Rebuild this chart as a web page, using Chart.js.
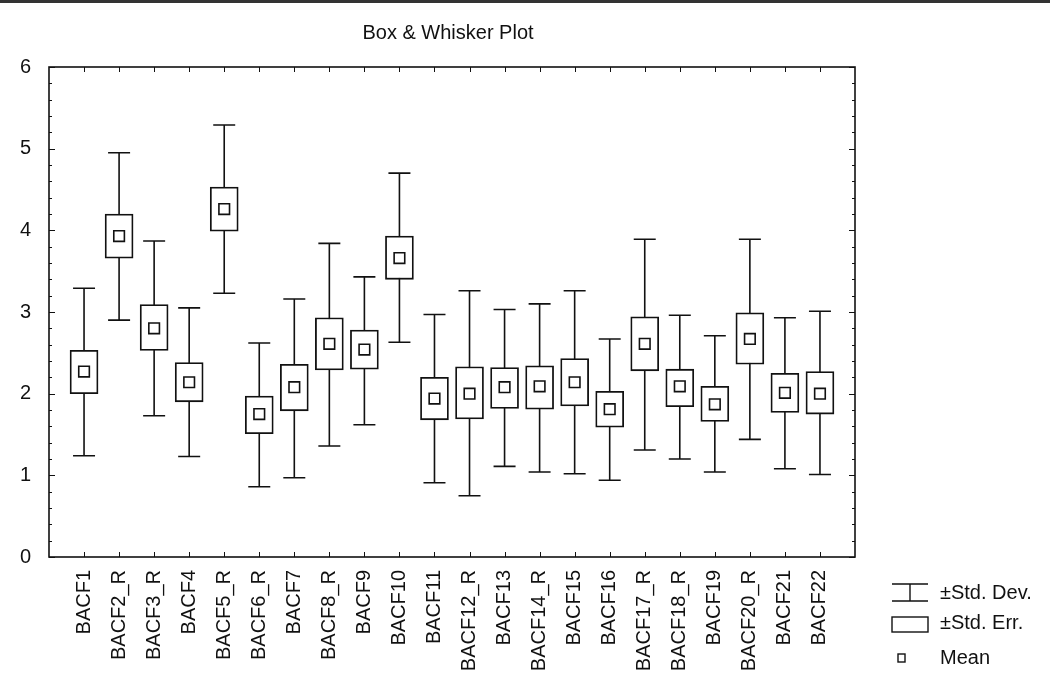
<!DOCTYPE html>
<html>
<head>
<meta charset="utf-8">
<title>Box & Whisker Plot</title>
<script src="https://cdn.jsdelivr.net/npm/chart.js@4/dist/chart.umd.min.js"></script>
<style>
  html, body { margin: 0; padding: 0; background: #fff; }
  #wrap { width: 1050px; height: 693px; position: relative; }
</style>
</head>
<body>
<div id="wrap"><canvas id="c" width="1050" height="693"></canvas></div>
<script>
// Variables on the x axis
const categories = ['BACF1','BACF2_R','BACF3_R','BACF4','BACF5_R','BACF6_R','BACF7','BACF8_R','BACF9','BACF10',
  'BACF11','BACF12_R','BACF13','BACF14_R','BACF15','BACF16','BACF17_R','BACF18_R','BACF19','BACF20_R','BACF21','BACF22'];

// Mean of each variable
const means   = [2.27, 3.93, 2.80, 2.14, 4.26, 1.75, 2.08, 2.61, 2.54, 3.66,
                 1.94, 2.00, 2.08, 2.09, 2.14, 1.81, 2.61, 2.09, 1.87, 2.67, 2.01, 2.00];
// Mean ± standard error (box)
const seLow   = [2.00, 3.66, 2.53, 1.90, 3.99, 1.51, 1.79, 2.29, 2.30, 3.40,
                 1.68, 1.69, 1.82, 1.81, 1.85, 1.59, 2.28, 1.84, 1.66, 2.36, 1.77, 1.75];
const seHigh  = [2.53, 4.20, 3.09, 2.38, 4.53, 1.97, 2.36, 2.93, 2.78, 3.93,
                 2.20, 2.33, 2.32, 2.34, 2.43, 2.03, 2.94, 2.30, 2.09, 2.99, 2.25, 2.27];
// Mean ± standard deviation (whiskers)
const sdLow   = [1.24, 2.90, 1.73, 1.23, 3.23, 0.86, 0.97, 1.36, 1.62, 2.63,
                 0.91, 0.75, 1.11, 1.04, 1.02, 0.94, 1.31, 1.20, 1.04, 1.44, 1.08, 1.01];
const sdHigh  = [3.29, 4.95, 3.87, 3.05, 5.29, 2.62, 3.16, 3.84, 3.43, 4.70,
                 2.97, 3.26, 3.03, 3.10, 3.26, 2.67, 3.89, 2.96, 2.71, 3.89, 2.93, 3.01];

// Y axis range and tick step
const yTicks = [0, 1, 2, 3, 4, 5, 6];
const yMinorStep = 0.2;

// Empty slot on each side so the first and last box sit one step in from the frame
const labels = [''].concat(categories, ['']);
const pad = arr => [null].concat(arr, [null]);

const INK = '#111';
const FONT = '"Liberation Sans", Arial, sans-serif';

// Whiskers with end caps, drawn under the boxes
const whiskerPlugin = {
  id: 'whiskers',
  beforeDatasetsDraw(chart) {
    const { ctx, scales: { x, y } } = chart;
    ctx.save();
    ctx.strokeStyle = INK;
    ctx.lineWidth = 1.6;
    categories.forEach((_, i) => {
      const px = x.getPixelForValue(i + 1);
      const top = y.getPixelForValue(sdHigh[i]);
      const bot = y.getPixelForValue(sdLow[i]);
      ctx.beginPath();
      ctx.moveTo(px, top); ctx.lineTo(px, bot);
      ctx.moveTo(px - 11, top); ctx.lineTo(px + 11, top);
      ctx.moveTo(px - 11, bot); ctx.lineTo(px + 11, bot);
      ctx.stroke();
    });
    ctx.restore();
  }
};

// Frame, inward tick marks, title and legend
const framePlugin = {
  id: 'frame',
  afterDraw(chart) {
    const { ctx, chartArea: a, scales: { x, y } } = chart;
    ctx.save();
    ctx.strokeStyle = INK;
    ctx.lineWidth = 1.6;
    ctx.strokeRect(a.left, a.top, a.right - a.left, a.bottom - a.top);

    ctx.lineWidth = 1;
    ctx.beginPath();
    // y ticks on both sides, pointing inward
    for (let v = 0; v <= 6.0001; v += yMinorStep) {
      const py = Math.round(y.getPixelForValue(v)) + 0.5;
      const major = Math.abs(v - Math.round(v)) < 1e-6;
      const len = major ? 6 : 3;
      ctx.moveTo(a.left, py); ctx.lineTo(a.left + len, py);
      ctx.moveTo(a.right, py); ctx.lineTo(a.right - len, py);
    }
    // x ticks at each variable, top and bottom
    categories.forEach((_, i) => {
      const px = Math.round(x.getPixelForValue(i + 1)) + 0.5;
      ctx.moveTo(px, a.bottom); ctx.lineTo(px, a.bottom - 5);
      ctx.moveTo(px, a.top); ctx.lineTo(px, a.top + 5);
    });
    ctx.stroke();

    // Title
    ctx.fillStyle = INK;
    ctx.font = '20px ' + FONT;
    ctx.textAlign = 'center';
    ctx.textBaseline = 'middle';
    ctx.fillText('Box & Whisker Plot', 448, 33);

    // Legend
    const lx = 892, lw = 36;
    ctx.lineWidth = 1.4;
    ctx.beginPath();
    ctx.moveTo(lx, 584); ctx.lineTo(lx + lw, 584);
    ctx.moveTo(lx + lw / 2, 584); ctx.lineTo(lx + lw / 2, 601);
    ctx.moveTo(lx, 601); ctx.lineTo(lx + lw, 601);
    ctx.stroke();
    ctx.strokeRect(lx, 617, lw, 15);
    ctx.strokeRect(lx + 6, 654, 7, 8);

    ctx.font = '20px ' + FONT;
    ctx.textAlign = 'left';
    ctx.fillText('\u00B1Std. Dev.', 940, 593);
    ctx.fillText('\u00B1Std. Err.', 940, 623);
    ctx.fillText('Mean', 940, 658);

    // Dark rule along the top edge
    ctx.fillStyle = '#333';
    ctx.fillRect(0, 0, 1050, 3);
    ctx.restore();
  }
};

const bgPlugin = {
  id: 'bg',
  beforeDraw(chart) {
    const { ctx } = chart;
    ctx.save();
    ctx.fillStyle = '#fff';
    ctx.fillRect(0, 0, chart.width, chart.height);
    ctx.restore();
  }
};

new Chart(document.getElementById('c'), {
  type: 'bar',
  data: {
    labels,
    datasets: [
      {
        label: '\u00B1Std. Err.',
        data: pad(seLow.map((lo, i) => [lo, seHigh[i]])),
        backgroundColor: '#fff',
        borderColor: INK,
        borderWidth: 1.8,
        borderSkipped: false,
        barThickness: 28,
        order: 2
      },
      {
        type: 'line',
        label: 'Mean',
        data: pad(means),
        showLine: false,
        pointStyle: 'rect',
        pointRadius: 7.5,
        pointBorderWidth: 1.6,
        pointBackgroundColor: '#fff',
        pointBorderColor: INK,
        order: 1
      }
    ]
  },
  options: {
    responsive: false,
    animation: false,
    layout: { padding: { top: 67, right: 195, left: 0, bottom: 0 } },
    plugins: { legend: { display: false }, tooltip: { enabled: false }, title: { display: false } },
    scales: {
      x: {
        type: 'category',
        offset: false,
        grid: { display: false },
        border: { display: false },
        ticks: {
          autoSkip: false,
          minRotation: 90,
          maxRotation: 90,
          padding: 5,
          color: INK,
          font: { family: FONT, size: 20 }
        },
        afterFit(s) { s.height = 136; }
      },
      y: {
        min: 0,
        max: 6,
        grid: { display: false },
        border: { display: false },
        afterBuildTicks(s) { s.ticks = yTicks.map(v => ({ value: v })); },
        ticks: {
          padding: 10,
          color: INK,
          font: { family: FONT, size: 20 }
        },
        afterFit(s) { s.width = 49; }
      }
    }
  },
  plugins: [bgPlugin, whiskerPlugin, framePlugin]
});
</script>
</body>
</html>
